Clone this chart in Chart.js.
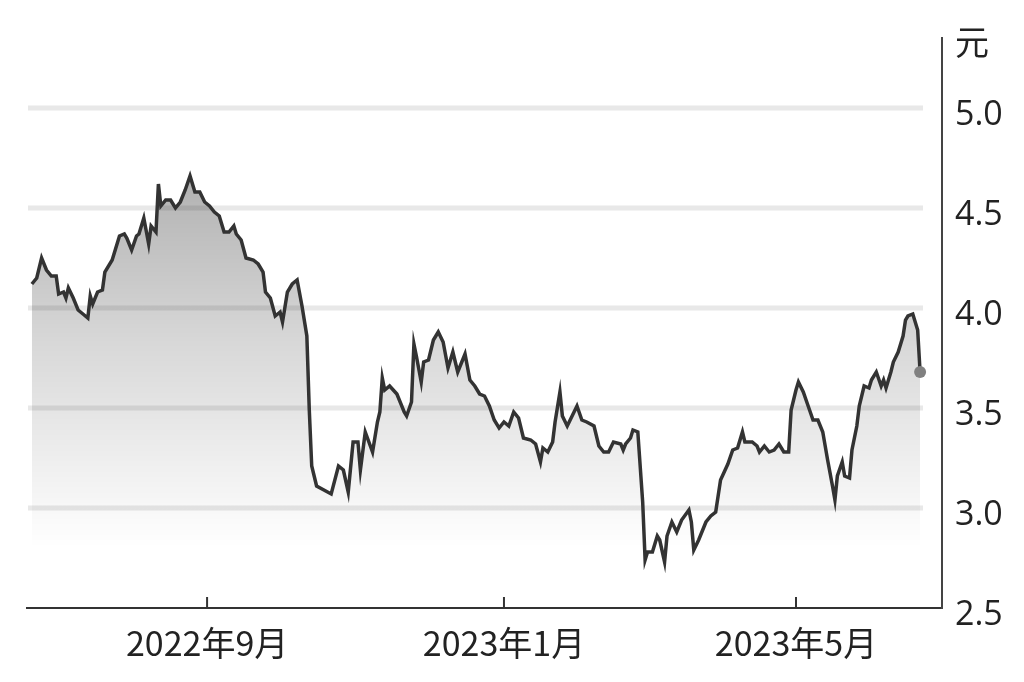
<!DOCTYPE html>
<html>
<head>
<meta charset="utf-8">
<title>股价走势</title>
<script src="https://cdn.jsdelivr.net/npm/chart.js@4.4.0/dist/chart.umd.min.js"></script>
<style>
  html, body { margin: 0; padding: 0; background: #fff; }
  #wrap { position: relative; width: 1024px; height: 682px; }
</style>
</head>
<body>
<div id="wrap"><canvas id="price-chart"></canvas></div>
<script>
// Days are counted from this date
const START_DATE = '2022-06-20';

// Closing price (元)
const dayOffsets = [
    1, 3, 5, 7, 9, 11, 12, 14, 15, 16, 18, 20, 22, 24, 25, 26, 28, 30, 31, 34,
    37, 39, 40, 42, 44, 45, 47, 49, 50, 52, 53, 54, 56, 58, 60, 62, 64, 66, 68, 70,
    72, 74, 76, 78, 80, 82, 84, 85, 87, 89, 92, 94, 96, 97, 99, 101, 103, 104, 106, 108,
    110, 112, 114, 115, 116, 118, 121, 124, 127, 129, 131, 133, 135, 136, 138, 141, 143, 144, 145, 146,
    148, 151, 154, 155, 157, 158, 159, 161, 162, 164, 166, 167, 168, 170, 172, 174, 176, 179, 181, 183,
    185, 187, 189, 191, 193, 195, 197, 199, 201, 203, 206, 208, 210, 211, 213, 215, 216, 218, 219, 221,
    223, 225, 227, 229, 232, 234, 236, 238, 240, 243, 244, 245, 247, 248, 250, 252, 253, 254, 256, 258,
    259, 261, 262, 264, 266, 268, 271, 272, 273, 275, 278, 280, 282, 284, 287, 289, 291, 293, 294, 297,
    299, 300, 302, 304, 306, 308, 310, 312, 313, 315, 316, 318, 320, 322, 324, 326, 328, 330, 331, 332,
    334, 335, 337, 338, 340, 341, 343, 345, 346, 348, 350, 351, 352, 354, 355, 357, 359, 360, 361, 363,
    365, 366
];
const prices = [
    4.12, 4.15, 4.25, 4.19, 4.16, 4.16, 4.07, 4.08, 4.05, 4.10, 4.05, 3.99, 3.97, 3.95, 4.06, 4.02, 4.08, 4.09, 4.18, 4.24,
    4.36, 4.37, 4.35, 4.29, 4.36, 4.37, 4.45, 4.32, 4.41, 4.38, 4.62, 4.51, 4.54, 4.54, 4.50, 4.53, 4.59, 4.66, 4.58, 4.58,
    4.53, 4.51, 4.48, 4.46, 4.38, 4.38, 4.41, 4.37, 4.34, 4.25, 4.24, 4.22, 4.18, 4.08, 4.05, 3.96, 3.98, 3.93, 4.08, 4.12,
    4.14, 4.01, 3.86, 3.49, 3.21, 3.11, 3.09, 3.07, 3.21, 3.19, 3.08, 3.33, 3.33, 3.19, 3.38, 3.28, 3.43, 3.48, 3.65, 3.59,
    3.61, 3.57, 3.48, 3.46, 3.53, 3.82, 3.76, 3.63, 3.73, 3.74, 3.84, 3.86, 3.88, 3.83, 3.70, 3.78, 3.68, 3.77, 3.64, 3.61,
    3.57, 3.56, 3.51, 3.44, 3.40, 3.43, 3.41, 3.48, 3.45, 3.35, 3.34, 3.32, 3.23, 3.30, 3.28, 3.33, 3.43, 3.58, 3.46, 3.41,
    3.46, 3.51, 3.44, 3.43, 3.41, 3.31, 3.28, 3.28, 3.33, 3.32, 3.29, 3.32, 3.35, 3.39, 3.38, 3.03, 2.74, 2.78, 2.78, 2.86,
    2.84, 2.73, 2.86, 2.93, 2.88, 2.94, 2.99, 2.93, 2.79, 2.84, 2.93, 2.96, 2.98, 3.14, 3.22, 3.29, 3.30, 3.38, 3.33, 3.33,
    3.31, 3.28, 3.31, 3.28, 3.29, 3.32, 3.28, 3.28, 3.49, 3.59, 3.63, 3.58, 3.51, 3.44, 3.44, 3.38, 3.24, 3.11, 3.04, 3.16,
    3.23, 3.16, 3.15, 3.29, 3.41, 3.51, 3.61, 3.60, 3.64, 3.68, 3.61, 3.64, 3.60, 3.68, 3.73, 3.78, 3.86, 3.94, 3.96, 3.97,
    3.89, 3.68
];

// Axis ticks
const yTicks = [2.5, 3.0, 3.5, 4.0, 4.5, 5.0];
const unitLabel = '元';
const tickDates = ['2022-09-01', '2023-01-01', '2023-05-01'];
const tickLabels = ['2022年9月', '2023年1月', '2023年5月'];

const Y_MAX = 5.35;

function dayOf(dateString) {
    return (Date.parse(dateString) - Date.parse(START_DATE)) / 86400000;
}

// Light horizontal bands behind the fill, and short tick marks on the date axis
const decorPlugin = {
    id: 'decor',
    beforeDatasetsDraw(chart) {
        const { ctx, chartArea, scales } = chart;
        ctx.save();
        ctx.strokeStyle = '#e8e8e8';
        ctx.lineWidth = 5;
        yTicks.slice(1).forEach(v => {
            const y = scales.y.getPixelForValue(v);
            ctx.beginPath();
            ctx.moveTo(chartArea.left + 1, y);
            ctx.lineTo(chartArea.right - 19, y);
            ctx.stroke();
        });
        ctx.restore();
    },
    afterDraw(chart) {
        const { ctx, chartArea, scales } = chart;
        ctx.save();
        ctx.strokeStyle = '#333';
        ctx.lineWidth = 2;
        tickDates.forEach(d => {
            const x = scales.x.getPixelForValue(dayOf(d));
            ctx.beginPath();
            ctx.moveTo(x, chartArea.bottom - 11);
            ctx.lineTo(x, chartArea.bottom);
            ctx.stroke();
        });
        ctx.restore();
    }
};

const ctx = document.getElementById('price-chart').getContext('2d');

new Chart(ctx, {
    type: 'line',
    data: {
        datasets: [{
            data: dayOffsets.map((d, i) => ({ x: d, y: prices[i] })),
            borderColor: '#333',
            borderWidth: 3.5,
            tension: 0,
            fill: 'start',
            backgroundColor: (c) => {
                const chart = c.chart;
                if (!chart.chartArea) return 'rgba(0,0,0,0.1)';
                const ys = chart.scales.y;
                const g = chart.ctx.createLinearGradient(0, ys.getPixelForValue(4.8), 0, ys.getPixelForValue(2.8));
                g.addColorStop(0, 'rgba(0,0,0,0.33)');
                g.addColorStop(0.5, 'rgba(0,0,0,0.15)');
                g.addColorStop(1, 'rgba(0,0,0,0)');
                return g;
            },
            pointRadius: (c) => c.dataIndex === prices.length - 1 ? 6 : 0,
            pointBackgroundColor: '#808080',
            pointBorderWidth: 0
        }]
    },
    options: {
        responsive: true,
        maintainAspectRatio: false,
        animation: false,
        layout: {
            padding: { left: 27, top: 38, right: 0, bottom: 0 }
        },
        plugins: {
            legend: { display: false },
            tooltip: { enabled: false }
        },
        scales: {
            x: {
                type: 'linear',
                min: -1,
                max: 375,
                grid: { display: false, drawTicks: false },
                border: { display: true, color: '#333', width: 2 },
                afterBuildTicks: (scale) => {
                    scale.ticks = tickDates.map(d => ({ value: dayOf(d) }));
                },
                afterFit: (scale) => { scale.height = 74; },
                ticks: {
                    autoSkip: false,
                    maxRotation: 0,
                    padding: 15,
                    color: '#222',
                    font: { family: '"Noto Sans CJK SC", sans-serif', size: 34 },
                    callback: (value, index) => tickLabels[index]
                }
            },
            y: {
                position: 'right',
                min: 2.5,
                max: Y_MAX,
                grid: { display: false, drawTicks: false },
                border: { display: true, color: '#444', width: 2 },
                afterBuildTicks: (scale) => {
                    scale.ticks = yTicks.concat([Y_MAX]).map(v => ({ value: v }));
                },
                afterFit: (scale) => { scale.width = 82; },
                ticks: {
                    padding: 13,
                    labelOffset: 7,
                    color: '#222',
                    font: { family: '"Open Sans", "Noto Sans CJK SC", sans-serif', size: 34 },
                    callback: (value) => value === Y_MAX ? unitLabel : value.toFixed(1)
                }
            }
        }
    },
    plugins: [decorPlugin]
});
</script>
</body>
</html>
